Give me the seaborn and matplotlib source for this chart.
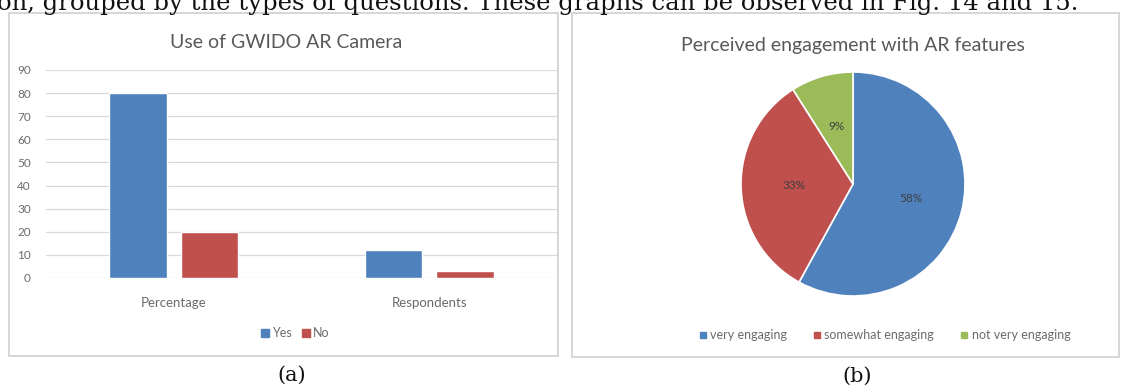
import matplotlib
matplotlib.use("Agg")
import matplotlib.pyplot as plt
import seaborn as sns
import pandas as pd
from matplotlib.patches import Rectangle
from matplotlib.lines import Line2D

# ---- data ----
categories = ["Percentage", "Respondents"]
yes_values = [80, 12]
no_values = [20, 3]
series_names = ["Yes", "No"]
y_ticks = [0, 10, 20, 30, 40, 50, 60, 70, 80, 90]

pie_labels = ["very engaging", "somewhat engaging", "not very engaging"]
pie_values = [58, 33, 9]

bar_title = "Use of GWIDO AR Camera"
pie_title = "Perceived engagement with AR features"
caption_text = "on, grouped by the types of questions. These graphs can be observed in Fig. 14 and 15."

BLUE = "#4F81BD"
RED = "#C0504D"
GREEN = "#9BBB59"
TXT = "#6b6b6b"
GRID = "#D9D9D9"
SERIF = ["DejaVu Serif", "Liberation Serif"]

sns.set_theme(style="white")
plt.rcParams["font.family"] = ["Lato", "DejaVu Sans"]

W, H = 1121, 385
fig = plt.figure(figsize=(W / 100, H / 100), dpi=100)
fig.patch.set_facecolor("white")


def px_axes(x0, y0, x1, y1):
    return fig.add_axes([x0 / W, 1 - y1 / H, (x1 - x0) / W, (y1 - y0) / H])


# panel borders
for (x0, y0, x1, y1) in [(9, 13, 558, 356), (572, 13, 1119, 357)]:
    fig.add_artist(Rectangle((x0 / W, 1 - y1 / H), (x1 - x0) / W, (y1 - y0) / H,
                             transform=fig.transFigure, fill=False,
                             edgecolor="#D0D0D0", linewidth=1.2))

# caption text at top (partially cut, as in the reference)
fig.text(-0.003, 1 - 10 / H, caption_text, family=SERIF,
         fontsize=17.5, color="#111111", ha="left", va="baseline")

# ---- bar chart ----
df = pd.DataFrame({
    "category": categories * 2,
    "series": [series_names[0]] * len(categories) + [series_names[1]] * len(categories),
    "value": yes_values + no_values,
})
ax = px_axes(46, 70, 557, 278)
sns.barplot(data=df, x="category", y="value", hue="series", order=categories,
            hue_order=series_names, palette=[BLUE, RED], width=0.56, gap=0.2,
            saturation=1, ax=ax, legend=False, zorder=3)
ax.set_ylim(0, 90)
ax.set_yticks(y_ticks)
ax.yaxis.grid(True, color=GRID, linewidth=0.9, zorder=0)
ax.set_axisbelow(True)
for s in ax.spines.values():
    s.set_visible(False)
ax.set_xlabel("")
ax.set_ylabel("")
ax.tick_params(axis="y", length=0, pad=11, labelsize=8.5, labelcolor=TXT)
ax.tick_params(axis="x", length=0, pad=14, labelsize=9.5, labelcolor=TXT)
ax.set_facecolor("none")
fig.text(286 / W, 1 - 42 / H, bar_title, ha="center", va="center",
         fontsize=14, color="#595959")
handles = [Line2D([], [], marker="s", linestyle="", markersize=6, color=c) for c in [BLUE, RED]]
fig.legend(handles, series_names, loc="center", bbox_to_anchor=(294 / W, 1 - 333 / H),
           ncol=2, frameon=False, fontsize=9, labelcolor=TXT, handletextpad=0.1,
           columnspacing=0.6, handlelength=1.0)

# ---- pie chart ----
pax = px_axes(853 - 112, 184 - 112, 853 + 112, 184 + 112)
wedges, texts, autotexts = pax.pie(
    pie_values, colors=[BLUE, RED, GREEN], startangle=90, counterclock=False,
    autopct=lambda p: f"{p:.0f}%", pctdistance=0.53,
    wedgeprops=dict(edgecolor="white", linewidth=1.2),
    textprops=dict(fontsize=8.5, color="#404040"))
pax.set_xlim(-1, 1)
pax.set_ylim(-1, 1)
pax.set_aspect("equal")
fig.text(853 / W, 1 - 45 / H, pie_title, ha="center", va="center",
         fontsize=14, color="#595959")
handles2 = [Line2D([], [], marker="s", linestyle="", markersize=4, color=c)
            for c in [BLUE, RED, GREEN]]
fig.legend(handles2, pie_labels, loc="center", bbox_to_anchor=(884 / W, 1 - 335 / H),
           ncol=3, frameon=False, fontsize=9, labelcolor=TXT, handletextpad=0.2,
           columnspacing=2.0, handlelength=0.8)

# sub-figure labels
fig.text(292 / W, 1 - 375 / H, "(a)", ha="center", va="center", fontsize=15,
         family=SERIF, color="#111111")
fig.text(857 / W, 1 - 376 / H, "(b)", ha="center", va="center", fontsize=15,
         family=SERIF, color="#111111")

fig.savefig("out.png", dpi=100, facecolor="white")
